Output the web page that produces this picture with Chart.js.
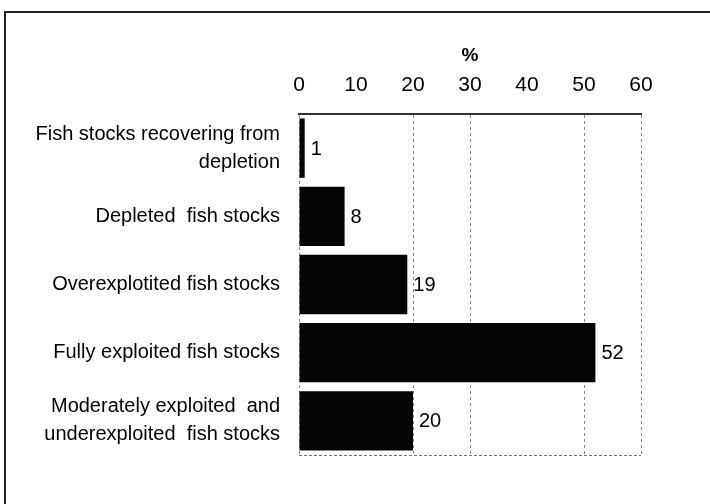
<!DOCTYPE html>
<html>
<head>
<meta charset="utf-8">
<script src="https://cdn.jsdelivr.net/npm/chart.js@4/dist/chart.umd.min.js"></script>
<style>
  html, body { margin: 0; padding: 0; background: #fff; }
  #wrap { position: relative; width: 710px; height: 504px; overflow: hidden; }
  #frame { position: absolute; left: 4px; top: 11px; right: -10px; bottom: -10px;
           border-top: 2px solid #222; border-left: 2px solid #222; }
  canvas { position: absolute; left: 0; top: 0; }
</style>
</head>
<body>
<div id="wrap">
  <div id="frame"></div>
  <canvas id="myChart" width="710" height="504"></canvas>
</div>
<script>
// Danh mục (nhãn trục Y) và giá trị %
const categories = [
    ['Fish stocks recovering from', 'depletion'],
    'Depleted  fish stocks',
    'Overexplotited fish stocks',
    'Fully exploited fish stocks',
    ['Moderately exploited  and', 'underexploited  fish stocks']
];
const values = [1, 8, 19, 52, 20];
const axisMin = 0;
const axisMax = 60;
const axisStep = 10;
// Các đường lưới không thấy trong ảnh gốc
const hiddenGrid = [10, 40];

const fontFamily = '"Liberation Sans", Arial, sans-serif';

// Vẽ số liệu ở cuối mỗi thanh
const valueLabels = {
    id: 'valueLabels',
    afterDatasetsDraw(chart) {
        const c = chart.ctx;
        const meta = chart.getDatasetMeta(0);
        c.save();
        c.fillStyle = '#000';
        c.font = '20px ' + fontFamily;
        c.textAlign = 'left';
        c.textBaseline = 'middle';
        meta.data.forEach((bar, i) => {
            c.fillText(String(values[i]), bar.x + 6, bar.y + 1);
        });
        c.restore();
    }
};

// Đường viền đứt nét phía dưới vùng biểu đồ
const bottomEdge = {
    id: 'bottomEdge',
    beforeDatasetsDraw(chart) {
        const a = chart.chartArea;
        const c = chart.ctx;
        c.save();
        c.strokeStyle = '#777';
        c.lineWidth = 1.2;
        c.setLineDash([3, 2]);
        c.beginPath();
        c.moveTo(a.left, a.bottom + 0.5);
        c.lineTo(a.right, a.bottom + 0.5);
        c.stroke();
        c.restore();
    }
};

const ctx = document.getElementById('myChart').getContext('2d');
const myChart = new Chart(ctx, {
    type: 'bar',
    data: {
        labels: categories,
        datasets: [{
            data: values,
            backgroundColor: '#050505',
            borderWidth: 0,
            categoryPercentage: 1,
            barPercentage: 0.87
        }]
    },
    plugins: [valueLabels, bottomEdge],
    options: {
        indexAxis: 'y',
        responsive: false,
        animation: false,
        layout: { padding: { left: 0, top: 44, right: 69, bottom: 49 } },
        scales: {
            x: {
                position: 'top',
                min: axisMin,
                max: axisMax,
                ticks: {
                    stepSize: axisStep,
                    color: '#000',
                    padding: 16,
                    font: { family: fontFamily, size: 21 }
                },
                grid: {
                    color: (c) => (c.tick && hiddenGrid.includes(c.tick.value)) ? 'rgba(0,0,0,0)' : '#888',
                    lineWidth: 1,
                    drawTicks: false
                },
                // nét đứt cho lưới dọc (đường trục vẫn liền)
                border: { display: true, color: '#333', width: 2, dash: [3, 3] },
                title: {
                    display: true,
                    text: '%',
                    color: '#000',
                    padding: { top: 0, bottom: 0 },
                    font: { family: fontFamily, size: 19, weight: 'bold' }
                },
                afterFit(scale) { scale.height = 70; }
            },
            y: {
                ticks: {
                    color: '#000',
                    padding: 19,
                    font: { family: fontFamily, size: 20, lineHeight: 1.4 }
                },
                grid: { display: false, drawTicks: false },
                border: { display: false },
                afterFit(scale) { scale.width = 299; }
            }
        },
        plugins: {
            legend: { display: false },
            tooltip: { enabled: false }
        }
    }
});
</script>
</body>
</html>
